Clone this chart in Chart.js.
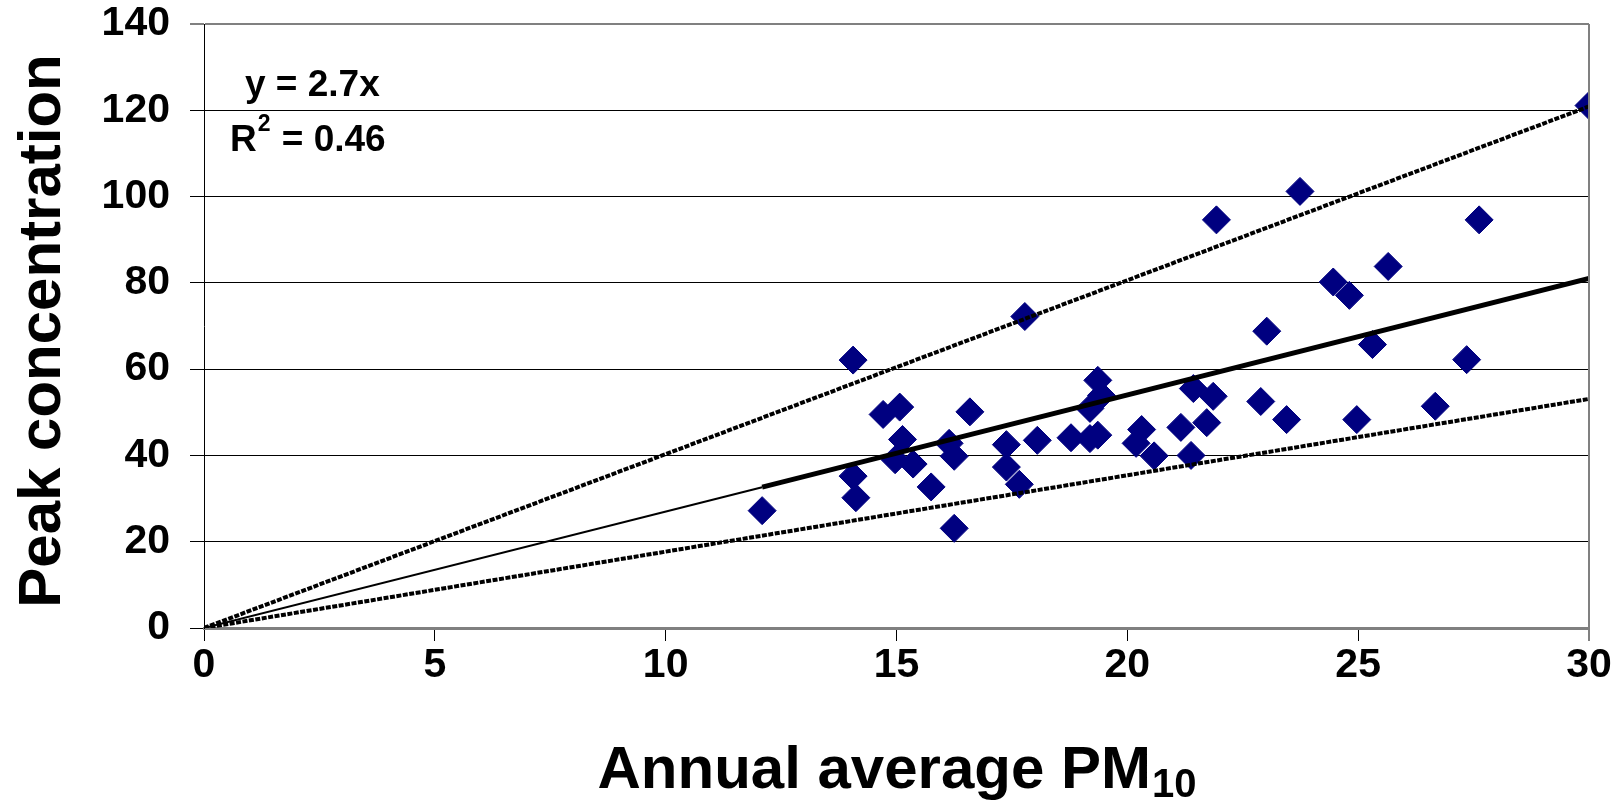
<!DOCTYPE html>
<html>
<head>
<meta charset="utf-8">
<script src="https://cdn.jsdelivr.net/npm/chart.js@4.4.1/dist/chart.umd.min.js"></script>
<style>
  html, body { margin: 0; padding: 0; background: #fff; }
  #wrap { width: 1624px; height: 802px; }
</style>
</head>
<body>
<div id="wrap"><canvas id="chartPeak"></canvas></div>
<script>
// annual average PM10 (x) and peak concentration (y) per site
const pmAnnual = [12.09, 14.06, 14.06, 14.12, 14.71, 14.97, 15.07, 15.13, 15.36, 15.75,
    16.14, 16.25, 16.25, 16.59, 17.38, 17.38, 17.66, 17.78, 18.05, 18.78,
    19.19, 19.19, 19.36, 19.36, 19.44, 20.19, 20.31, 20.58, 21.16, 21.38,
    21.43, 21.72, 21.86, 21.93, 22.89, 23.02, 23.45, 23.74, 24.46, 24.81,
    24.97, 25.31, 25.65, 26.67, 27.35, 27.62, 30.0];
const peakConc = [27.2, 62.1, 35.2, 30.2, 49.5, 39.0, 51.2, 43.7, 38.0, 32.7,
    42.8, 39.8, 23.1, 50.1, 42.5, 37.3, 33.3, 72.2, 43.5, 44.1,
    43.9, 50.9, 44.7, 57.4, 53.9, 42.8, 46.0, 39.9, 46.5, 40.0,
    55.5, 47.6, 53.7, 94.6, 52.5, 68.8, 48.3, 101.2, 80.2, 77.1,
    48.3, 65.7, 83.8, 51.4, 62.2, 94.6, 121.1];

const fitSlope = 2.7;
const upperSlope = 4.03;
const lowerSlope = 1.77;
const xTicks = [0, 5, 10, 15, 20, 25, 30];
const yTicks = [0, 20, 40, 60, 80, 100, 120, 140];

const xMax = xTicks[xTicks.length - 1];
const yMax = yTicks[yTicks.length - 1];
const fitStart = Math.min(...pmAnnual);

function lineThrough(slope, x0, x1) {
    return [{ x: x0, y: slope * x0 }, { x: x1, y: slope * x1 }];
}

const points = pmAnnual.map((x, i) => ({ x: x, y: peakConc[i] }));

const FONT = "'Liberation Sans', Arial, sans-serif";

const extraText = {
    id: 'extraText',
    afterDraw(chart) {
        const ctx = chart.ctx;
        const area = chart.chartArea;
        ctx.save();

        // right frame line
        ctx.strokeStyle = '#808080';
        ctx.lineWidth = 2;
        ctx.beginPath();
        ctx.moveTo(area.right, area.top);
        ctx.lineTo(area.right, area.bottom + 13);
        ctx.stroke();

        ctx.fillStyle = '#000';

        // y axis title
        ctx.save();
        ctx.translate(60, 331);
        ctx.rotate(-Math.PI / 2);
        ctx.font = 'bold 60px ' + FONT;
        ctx.textAlign = 'center';
        ctx.textBaseline = 'alphabetic';
        ctx.fillText('Peak concentration', 0, 0);
        ctx.restore();

        // x axis title with subscript
        ctx.textAlign = 'left';
        ctx.textBaseline = 'alphabetic';
        ctx.font = 'bold 60px ' + FONT;
        const mainTxt = 'Annual average PM';
        const w1 = ctx.measureText(mainTxt).width;
        ctx.font = 'bold 40px ' + FONT;
        const w2 = ctx.measureText('10').width;
        const cx = (area.left + area.right) / 2;
        const startX = cx - (w1 + w2) / 2;
        ctx.font = 'bold 60px ' + FONT;
        ctx.fillText(mainTxt, startX, 788);
        ctx.font = 'bold 40px ' + FONT;
        ctx.fillText('10', startX + w1 + 1, 797);

        // regression annotation
        ctx.font = 'bold 37px ' + FONT;
        ctx.fillText('y = 2.7x', 245, 96);
        const rW = ctx.measureText('R').width;
        ctx.fillText('R', 230, 151);
        ctx.font = 'bold 23px ' + FONT;
        ctx.fillText('2', 230 + rW + 1, 131);
        const sW = ctx.measureText('2').width;
        ctx.font = 'bold 37px ' + FONT;
        ctx.fillText(' = 0.46', 230 + rW + sW + 2, 151);

        ctx.restore();
    }
};

const dataScatter = {
    datasets: [
        {
            label: 'Sites',
            data: points,
            pointStyle: 'rectRot',
            pointRadius: 14,
            backgroundColor: '#000080',
            borderColor: '#000080',
            borderWidth: 1,
            order: 5,
        },
        {
            label: 'Upper',
            data: lineThrough(upperSlope, 0, xMax),
            showLine: true,
            borderColor: '#000',
            borderWidth: 4,
            borderDash: [5, 1.5],
            pointRadius: 0,
            order: 1,
        },
        {
            label: 'Lower',
            data: lineThrough(lowerSlope, 0, xMax),
            showLine: true,
            borderColor: '#000',
            borderWidth: 4,
            borderDash: [5, 1.5],
            pointRadius: 0,
            order: 1,
        },
        {
            label: 'Fit (extrapolated)',
            data: lineThrough(fitSlope, 0, fitStart),
            showLine: true,
            borderColor: '#000',
            borderWidth: 2,
            pointRadius: 0,
            order: 1,
        },
        {
            label: 'Fit',
            data: lineThrough(fitSlope, fitStart, xMax),
            showLine: true,
            borderColor: '#000',
            borderWidth: 5,
            pointRadius: 0,
            order: 1,
        },
    ],
};

const configScatter = {
    type: 'scatter',
    data: dataScatter,
    options: {
        responsive: true,
        maintainAspectRatio: false,
        animation: false,
        layout: {
            padding: { top: 24, right: 35, left: 0, bottom: 0 }
        },
        plugins: {
            legend: { display: false },
            tooltip: { enabled: false },
        },
        scales: {
            x: {
                type: 'linear',
                min: 0,
                max: xMax,
                afterFit(scale) {
                    scale.height = 802 - 628;
                    scale.paddingLeft = 0;
                    scale.paddingRight = 0;
                },
                afterBuildTicks(scale) { scale.ticks = xTicks.map(v => ({ value: v })); },
                ticks: {
                    color: '#000',
                    padding: 0,
                    maxRotation: 0,
                    font: { family: FONT, size: 41, weight: 'bold' },
                },
                grid: {
                    drawOnChartArea: false,
                    drawTicks: true,
                    tickLength: 13,
                    color: '#000',
                },
                border: { color: '#808080', width: 3 },
            },
            y: {
                min: 0,
                max: yMax,
                afterFit(scale) {
                    scale.width = 204;
                    scale.paddingTop = 0;
                    scale.paddingBottom = 0;
                },
                afterBuildTicks(scale) { scale.ticks = yTicks.map(v => ({ value: v })); },
                ticks: {
                    color: '#000',
                    padding: 20,
                    font: { family: FONT, size: 41, weight: 'bold' },
                },
                grid: {
                    tickLength: 14,
                    color: (c) => (c.tick && c.tick.value === yMax) ? '#808080' : '#000',
                    lineWidth: (c) => (c.tick && c.tick.value === yMax) ? 2 : 1,
                },
                border: { color: '#000', width: 1 },
            },
        },
    },
    plugins: [extraText],
};

var chartScatter = new Chart(document.getElementById('chartPeak'), configScatter);
</script>
</body>
</html>
